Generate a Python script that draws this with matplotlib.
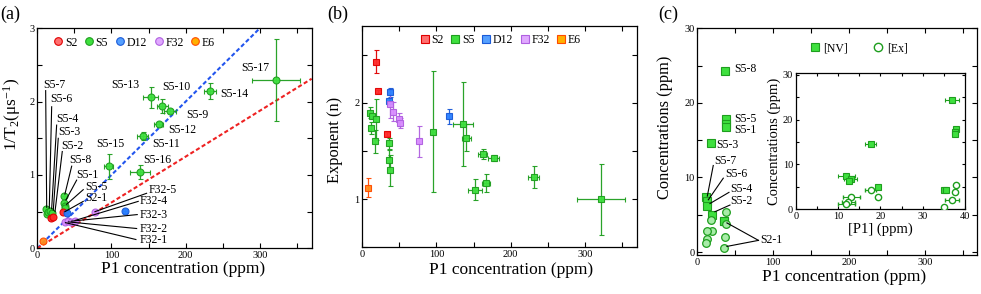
import matplotlib
matplotlib.use("Agg")
import matplotlib.pyplot as plt
from matplotlib.ticker import MultipleLocator
from matplotlib.lines import Line2D

plt.rcParams["font.family"] = ["Liberation Serif", "DejaVu Serif"]
plt.rcParams["mathtext.fontset"] = "custom"
plt.rcParams["mathtext.rm"] = "Liberation Serif"
plt.rcParams["mathtext.default"] = "regular"

# ---- panel (a): 1/T2 vs P1 concentration ----
a_s2_x = [18, 20.6, 35]
a_s2_y = [0.42, 0.43, 0.50]
a_s5_x = [11.2, 12.6, 15, 17, 19.3, 36.4, 36, 37.3, 37,
          96.6, 138.4, 142, 163.5, 153.2, 168.5, 178.4, 232.7, 321.7]
a_s5_y = [0.53, 0.47, 0.50, 0.51, 0.48, 0.72, 0.62, 0.58, 0.55,
          1.12, 1.04, 1.53, 1.69, 2.06, 1.94, 1.87, 2.145, 2.29]
a_s5_xerr = [0, 0, 0, 0, 0, 0, 0, 0, 0,
             6, 13, 7, 6, 10, 7.5, 8, 8, 32.5]
a_s5_yerr = [0, 0, 0, 0, 0, 0, 0, 0, 0,
             0.17, 0.10, 0.05, 0.03, 0.14, 0.10, 0.03, 0.11, 0.56]
a_d12_x = [39.5, 118.6]
a_d12_y = [0.48, 0.51]
a_d12_xerr = [1.5, 3]
a_d12_yerr = [0.02, 0.03]
a_f32_x = [38, 41, 46, 51, 77.8]
a_f32_y = [0.36, 0.37, 0.36, 0.37, 0.50]
a_e6_x = [8]
a_e6_y = [0.095]
a_fit_slopes = [0.01, 0.00625]   # blue, red

# labels: text, text x, text y
a_free_labels = [("S5-13", 100, 2.23), ("S5-10", 168.5, 2.2), ("S5-9", 201, 1.82),
                 ("S5-12", 176.5, 1.62), ("S5-11", 155, 1.42), ("S5-15", 79, 1.42),
                 ("S5-16", 143, 1.2), ("S5-14", 247, 2.1), ("S5-17", 274.5, 2.46)]
# labels with leader: text, text x, text y, line start x, y, line end x, y
a_lead_labels = [
    ("S5-7", 8.1, 2.23, 11.3, 2.15, 12.7, 0.56),
    ("S5-6", 18.1, 2.03, 19.4, 1.93, 16.2, 0.55),
    ("S5-4", 25.5, 1.77, 26.1, 1.68, 19.4, 0.54),
    ("S5-3", 28.3, 1.59, 28.3, 1.50, 21.6, 0.52),
    ("S5-2", 32.9, 1.40, 33.7, 1.32, 23.9, 0.50),
    ("S5-8", 43.1, 1.21, 46.4, 1.12, 37.3, 0.74),
    ("S5-1", 52.2, 1.00, 53.1, 0.93, 38.7, 0.66),
    ("S5-5", 64.3, 0.84, 62.0, 0.80, 39.6, 0.60),
    ("S2-1", 64.3, 0.68, 62.0, 0.64, 37.3, 0.50),
    ("F32-5", 149.6, 0.80, 147.4, 0.75, 77.8, 0.50),
    ("F32-4", 137.5, 0.64, 136.1, 0.64, 51, 0.38),
    ("F32-3", 137.5, 0.45, 134.8, 0.46, 46, 0.37),
    ("F32-2", 137.5, 0.27, 134.0, 0.27, 42, 0.36),
    ("F32-1", 137.5, 0.12, 133.0, 0.12, 38, 0.35),
]

# ---- panel (b): stretch exponent vs P1 concentration ----
b_s2_x = [18, 20.6, 34]
b_s2_y = [2.43, 2.12, 1.68]
b_s2_yerr = [0.12, 0.02, 0.02]
b_s5_x = [10.8, 13, 12.1, 18.8, 16.7, 36.3, 36.3, 37.7,
          95.6, 136, 140.5, 162.5, 177, 231, 167, 152, 322]
b_s5_y = [1.90, 1.86, 1.74, 1.83, 1.60, 1.58, 1.41, 1.30,
          1.70, 1.78, 1.64, 1.47, 1.43, 1.23, 1.17, 1.10, 1.00]
b_s5_xerr = [0, 0, 0, 0, 0, 0, 0, 0,
             2, 13.5, 6, 6, 7, 7, 5, 10, 32]
b_s5_yerr = [0.06, 0.03, 0.06, 0.21, 0.12, 0.06, 0.10, 0.16,
             0.63, 0.44, 0.14, 0.05, 0.03, 0.11, 0.09, 0.11, 0.37]
b_d12_x = [37.7, 36.5, 117]
b_d12_y = [2.11, 2.02, 1.86]
b_d12_yerr = [0.05, 0.03, 0.08]
b_f32_x = [37.7, 40.9, 49, 51.1, 75.9]
b_f32_y = [1.99, 1.91, 1.83, 1.79, 1.60]
b_f32_yerr = [0.15, 0.10, 0.07, 0.05, 0.16]
b_e6_x = [7.2]
b_e6_y = [1.12]
b_e6_yerr = [0.10]

# ---- panel (c): [NV] and [Ex] vs P1 concentration ----
c_nv_x = [36.9, 37.9, 37.7, 37.6, 17.7, 12.0, 13.0, 12.6, 19.5, 35.1, 35.6]
c_nv_y = [24.3, 17.8, 17.2, 16.8, 14.6, 7.4, 6.8, 6.2, 5.0, 4.2, 4.2]
c_nv_xerr = [1.7, 0.3, 0.3, 0.3, 1.3, 2.1, 1.5, 0.5, 0.3, 0.3, 0.3]
c_ex_x = [37.9, 17.7, 37.6, 19.5, 13.1, 36.9, 12.4, 12.0, 35.0]
c_ex_y = [5.4, 4.3, 3.8, 2.8, 2.8, 2.0, 1.7, 1.2, 0.6]
c_ex_xerr = [0.3, 1.3, 0.3, 0.3, 2.0, 1.7, 1.5, 2.0, 0.3]
c_lead_labels = [
    ("S5-7", 22.4, 12.2, 21.0, 11.6, 13.2, 7.5),
    ("S5-6", 36.4, 10.4, 34.2, 9.9, 14.5, 7.0),
    ("S5-4", 43.0, 8.4, 41.7, 8.0, 16.7, 6.5),
    ("S5-2", 43.9, 6.8, 43.0, 6.3, 23.2, 5.4),
]
c_free_labels = [("S5-8", 48, 24.5), ("S5-5", 48, 17.9), ("S5-1", 48, 16.3),
                 ("S5-3", 25.4, 14.3)]
c_s21_label = ("S2-1", 82.5, 1.56)
c_s21_targets = [(39, 3.9), (39, 0.75)]

# colours: (face, edge)
COL = {
    "S2": ("#ff2a2a", "#e00000"),
    "S5": ("#3ee03e", "#1e9e1e"),
    "D12": ("#2a80ff", "#1a5ad8"),
    "F32": ("#d98cff", "#b060e0"),
    "E6": ("#ff8c1a", "#ff4a00"),
}
LEG_FACE = {"S2": "#ff7070", "S5": "#3ee03e", "D12": "#55a0ff", "F32": "#e0a8ff", "E6": "#ffb000"}

fig = plt.figure(figsize=(9.81, 2.94), dpi=100)
ax_a = fig.add_axes([0.0380, 0.1554, 0.2797, 0.7483])
ax_b = fig.add_axes([0.3693, 0.1588, 0.2797, 0.7527])
ax_c = fig.add_axes([0.7108, 0.1327, 0.2851, 0.7711])
ax_i = fig.add_axes([0.8111, 0.2881, 0.1726, 0.4626])

XLBL = 12.5
YLBL = 11.8
TCK = 7.5
ANN = 8.5
MS = 5


def series(ax, x, y, name, marker, ms, xerr=None, yerr=None, z=3):
    face, edge = COL[name]
    ax.errorbar(x, y, xerr=xerr, yerr=yerr, fmt=marker, ms=ms, mfc=face, mec=edge,
                mew=0.8, ecolor=edge, elinewidth=0.9, capsize=1.8, capthick=0.9,
                alpha=0.95, zorder=z)


def style(ax, xmaj, xmin, ymaj, ymin):
    ax.xaxis.set_major_locator(MultipleLocator(xmaj))
    ax.xaxis.set_minor_locator(MultipleLocator(xmin))
    ax.yaxis.set_major_locator(MultipleLocator(ymaj))
    ax.yaxis.set_minor_locator(MultipleLocator(ymin))
    ax.tick_params(which="both", direction="in", top=True, right=True, labelsize=TCK, pad=2)
    ax.tick_params(which="both", length=3.5, width=0.8)
    for s in ax.spines.values():
        s.set_linewidth(0.9)


# ---------- (a) ----------
xs = [0, 370]
ax_a.plot(xs, [a_fit_slopes[0] * v for v in xs], ls=(0, (2, 1.2)), color="#2255ee", lw=1.5, zorder=2)
ax_a.plot(xs, [a_fit_slopes[1] * v for v in xs], ls=(0, (2, 1.2)), color="#ee2222", lw=1.5, zorder=2)
series(ax_a, a_s5_x, a_s5_y, "S5", "o", MS, a_s5_xerr, a_s5_yerr)
series(ax_a, a_s2_x, a_s2_y, "S2", "o", MS)
series(ax_a, a_d12_x, a_d12_y, "D12", "o", MS, a_d12_xerr, a_d12_yerr)
series(ax_a, a_f32_x, a_f32_y, "F32", "o", MS)
series(ax_a, a_e6_x, a_e6_y, "E6", "o", MS)
for t, tx, ty in a_free_labels:
    ax_a.text(tx, ty, t, fontsize=ANN, ha="left", va="center")
for t, tx, ty, sx, sy, ex, ey in a_lead_labels:
    ax_a.text(tx, ty, t, fontsize=ANN, ha="left", va="center")
    ax_a.plot([sx, ex], [sy, ey], color="black", lw=0.8, zorder=4)
ax_a.set_xlim(0, 370)
ax_a.set_ylim(0, 3)
style(ax_a, 100, 50, 1, 0.5)
ax_a.set_xlabel("P1 concentration (ppm)", fontsize=XLBL)
ax_a.set_ylabel(r"1/T$_2$(μs$^{-1}$)", fontsize=12.5)
ax_a.xaxis.set_label_coords(0.533, -0.058)
ax_a.yaxis.set_label_coords(-0.052, 0.61)

handles = [Line2D([], [], ls="", marker="o", ms=MS + 0.5, mfc=LEG_FACE[k], mec=COL[k][1], mew=0.8, label=k)
           for k in ["S2", "S5", "D12", "F32", "E6"]]
ax_a.legend(handles=handles, loc="upper left", bbox_to_anchor=(0.03, 1.0), ncol=5, frameon=False,
            fontsize=ANN, handlelength=0.8, handletextpad=0.15, columnspacing=0.6, borderaxespad=0.3)

# ---------- (b) ----------
series(ax_b, b_s5_x, b_s5_y, "S5", "s", MS, b_s5_xerr, b_s5_yerr)
series(ax_b, b_s2_x, b_s2_y, "S2", "s", MS, None, b_s2_yerr)
series(ax_b, b_d12_x, b_d12_y, "D12", "s", MS, None, b_d12_yerr)
series(ax_b, b_f32_x, b_f32_y, "F32", "s", MS, None, b_f32_yerr)
series(ax_b, b_e6_x, b_e6_y, "E6", "s", MS, None, b_e6_yerr)
ax_b.set_xlim(0, 370)
ax_b.set_ylim(0.5, 2.8)
style(ax_b, 100, 50, 1, 0.5)
ax_b.set_xlabel("P1 concentration (ppm)", fontsize=XLBL)
ax_b.set_ylabel("Exponent (n)", fontsize=YLBL)
ax_b.xaxis.set_label_coords(0.541, -0.067)
ax_b.yaxis.set_label_coords(-0.069, 0.487)
handles = [Line2D([], [], ls="", marker="s", ms=MS + 0.5, mfc=LEG_FACE[k], mec=COL[k][1], mew=0.8, label=k)
           for k in ["S2", "S5", "D12", "F32", "E6"]]
ax_b.legend(handles=handles, loc="upper left", bbox_to_anchor=(0.18, 1.0), ncol=5, frameon=False,
            fontsize=ANN, handlelength=0.8, handletextpad=0.15, columnspacing=0.6, borderaxespad=0.3)

# ---------- (c) ----------
face, edge = COL["S5"]
ax_c.errorbar(c_nv_x, c_nv_y, xerr=c_nv_xerr, fmt="s", ms=5.5, mfc=face, mec=edge, mew=0.8,
              ecolor=edge, elinewidth=0.8, capsize=0, zorder=3)
ax_c.errorbar(c_ex_x, c_ex_y, xerr=c_ex_xerr, fmt="o", ms=5.5, mfc="#a8eca8", mec=edge, mew=0.9,
              ecolor=edge, elinewidth=0.8, capsize=0, zorder=3)
for t, tx, ty in c_free_labels:
    ax_c.text(tx, ty, t, fontsize=ANN, ha="left", va="center")
for t, tx, ty, sx, sy, ex, ey in c_lead_labels:
    ax_c.text(tx, ty, t, fontsize=ANN, ha="left", va="center")
    ax_c.plot([sx, ex], [sy, ey], color="black", lw=0.8, zorder=4)
t, tx, ty = c_s21_label
ax_c.text(tx, ty, t, fontsize=ANN, ha="left", va="center")
for ex, ey in c_s21_targets:
    ax_c.plot([tx - 2, ex], [ty, ey], color="black", lw=0.8, zorder=4)
ax_c.set_xlim(0, 368)
ax_c.set_ylim(-0.4, 30)
style(ax_c, 100, 50, 10, 5)
ax_c.set_xlabel("P1 concentration (ppm)", fontsize=XLBL)
ax_c.set_ylabel("Concentrations (ppm)", fontsize=YLBL)
ax_c.xaxis.set_label_coords(0.524, -0.062)
ax_c.yaxis.set_label_coords(-0.086, 0.565)
handles = [Line2D([], [], ls="", marker="s", ms=6, mfc=face, mec=edge, mew=0.8, label="[NV]"),
           Line2D([], [], ls="", marker="o", ms=6, mfc="white", mec=edge, mew=1.0, label="[Ex]")]
ax_c.legend(handles=handles, loc="upper left", bbox_to_anchor=(0.365, 0.985), ncol=2, frameon=False,
            fontsize=ANN, handlelength=0.8, handletextpad=0.3, columnspacing=2.2)

# inset
ax_i.errorbar(c_nv_x, c_nv_y, xerr=c_nv_xerr, fmt="s", ms=4.5, mfc=face, mec=edge, mew=0.8,
              ecolor=edge, elinewidth=0.8, capsize=1.5, capthick=0.8, zorder=3)
ax_i.errorbar(c_ex_x, c_ex_y, xerr=c_ex_xerr, fmt="o", ms=4.5, mfc="white", mec=edge, mew=1.0,
              ecolor=edge, elinewidth=0.8, capsize=1.5, capthick=0.8, zorder=3)
ax_i.set_xlim(0, 40)
ax_i.set_ylim(0, 30.3)
style(ax_i, 10, 5, 10, 5)
ax_i.tick_params(which="both", length=2.5)
ax_i.set_xlabel("[P1] (ppm)", fontsize=10.5, labelpad=1)
ax_i.set_ylabel("Concentrations (ppm)", fontsize=10.5, labelpad=1)

fig.text(0.0, 0.95, "(a)", fontsize=13, ha="left", va="center")
fig.text(0.334, 0.95, "(b)", fontsize=13, ha="left", va="center")
fig.text(0.671, 0.95, "(c)", fontsize=13, ha="left", va="center")

fig.savefig("out.png", dpi=100)
